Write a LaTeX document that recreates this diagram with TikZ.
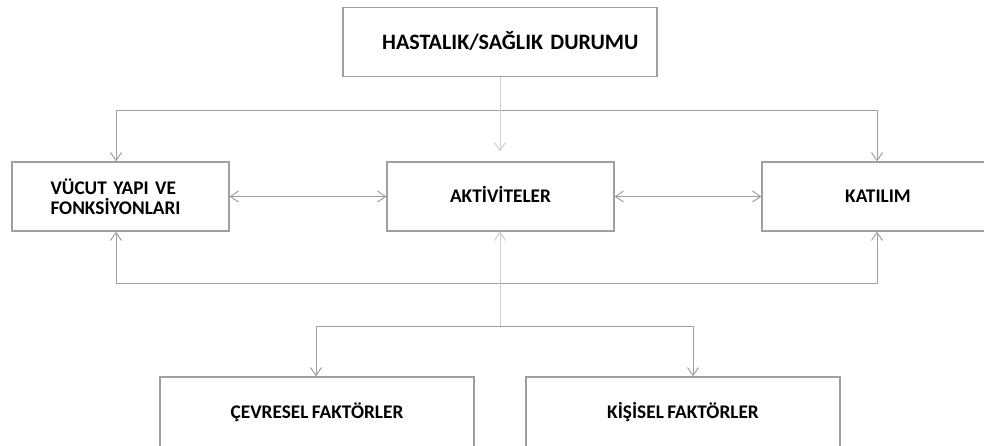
\documentclass[tikz,border=0pt]{standalone}
\usepackage{fontspec}
\setmainfont{Carlito}[WordSpace=0.8]
\usepackage{tikz}
\usetikzlibrary{arrows.meta, positioning}
\definecolor{boxline}{RGB}{160,160,160}
\definecolor{linkline}{RGB}{160,160,160}
\definecolor{faintline}{RGB}{205,205,205}

\begin{document}
\begin{tikzpicture}[x=1pt,y=-1pt,
    box/.style={rectangle,draw=boxline,line width=1.2pt,inner sep=0pt,minimum height=69pt,
      font=\bfseries\fontsize{19.3}{20}\selectfont},
    capsline/.style={text height=12.4pt,text depth=0pt},
    link/.style={draw=linkline,line width=1pt},
    faint/.style={draw=faintline,line width=1pt},
    tip/.style={-{Straight Barb[length=8pt,width=11pt]}},
    bothtips/.style={{Straight Barb[length=8pt,width=11pt]}-{Straight Barb[length=8pt,width=11pt]}}]
    \useasboundingbox (0,0) rectangle (984,445);

    \node (durum) [box,minimum width=314pt,text width=277pt,align=right,text height=14pt,text depth=0pt,
      font=\bfseries\fontsize{22}{22}\selectfont] at (500,42) {HASTALIK/SAĞLIK DURUMU};
    \node (vucut) [box,minimum width=217pt,text width=140pt,align=left] at (120.5,196.5) {VÜCUT YAPI VE\\FONKSİYONLARI};
    \node (aktivite) [box,capsline,minimum width=227pt] at (500.5,196.5) {AKTİVİTELER};
    \node (katilim) [box,capsline,minimum width=232pt] at (878,196.5) {KATILIM};
    \node (cevre) [box,capsline,minimum width=314pt,minimum height=70pt] at (317,412) {ÇEVRESEL FAKTÖRLER};
    \node (kisi) [box,capsline,minimum width=314pt,minimum height=70pt] at (683,412) {KİŞİSEL FAKTÖRLER};

    \coordinate (split) at (500,110);
    \coordinate (splitL) at (116,110);
    \coordinate (splitR) at (877,110);
    \coordinate (loopL) at (116,283);
    \coordinate (loopR) at (877,283);
    \coordinate (fork) at (500,326);
    \coordinate (forkL) at (316,326);
    \coordinate (forkR) at (693,326);

    \draw[faint] (durum) -- (split);
    \draw[link] (splitL) -- (splitR);
    \draw[link,tip] (splitL) -- (splitL |- vucut.north);
    \draw[link,tip] (splitR) -- (splitR |- katilim.north);
    \draw[faint,tip,shorten >=10pt] (split) -- (split |- aktivite.north);

    \draw[link,bothtips] (vucut) -- (aktivite);
    \draw[link,bothtips] (aktivite) -- (katilim);
    \draw[link,bothtips] (loopL |- vucut.south) -- (loopL) -- (loopR) -- (loopR |- katilim.south);

    \draw[faint,tip] (fork) -- (fork |- aktivite.south);
    \draw[link] (forkL) -- (forkR);
    \draw[link,tip] (forkL) -- (forkL |- cevre.north);
    \draw[link,tip] (forkR) -- (forkR |- kisi.north);
\end{tikzpicture}
\end{document}
